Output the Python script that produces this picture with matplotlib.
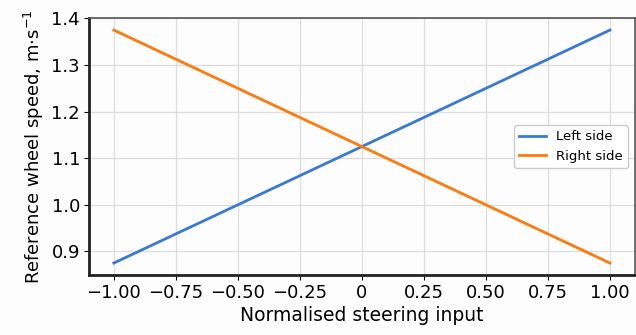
import numpy as np
import matplotlib
matplotlib.use('Agg')
import matplotlib.pyplot as plt

# Steering input and resulting wheel speeds (m/s)
steering = [-1.0, 1.0]
left_speed = [0.875, 1.375]
right_speed = [1.375, 0.875]

xticks = [-1.0, -0.75, -0.5, -0.25, 0.0, 0.25, 0.5, 0.75, 1.0]
xtick_labels = ['\u22121.00', '\u22120.75', '\u22120.50', '\u22120.25', '0',
                '0.25', '0.50', '0.75', '1.00']
yticks = [0.9, 1.0, 1.1, 1.2, 1.3, 1.4]

fig, ax = plt.subplots(figsize=(6.36, 3.35), dpi=100)
fig.patch.set_facecolor('#fdfdfd')
ax.set_facecolor('#fdfdfd')

ax.plot(steering, left_speed, color='#3a78d6', lw=2, label='Left side')
ax.plot(steering, right_speed, color='#ff7a0a', lw=2, label='Right side')

ax.set_xticks(xticks)
ax.set_xticklabels(xtick_labels)
ax.set_yticks(yticks)
ax.set_ylim(0.85, 1.4)
ax.tick_params(labelsize=13, pad=3)
ax.grid(True, color='#dddddd', lw=0.9)

ax.set_xlabel('Normalised steering input', fontsize=13.5, labelpad=3)
ax.set_ylabel('Reference wheel speed, m\u00b7s$^{-1}$', fontsize=13, labelpad=4)

for side in ['left', 'bottom']:
    ax.spines[side].set_linewidth(2)
    ax.spines[side].set_color('#222222')
for side in ['top', 'right']:
    ax.spines[side].set_linewidth(1.2)
    ax.spines[side].set_color('#555555')

ax.legend(loc='center right', fontsize=9.5, framealpha=1)

fig.subplots_adjust(left=0.14, right=0.998, top=0.945, bottom=0.18)
fig.savefig('out.png', dpi=100, facecolor=fig.get_facecolor())
